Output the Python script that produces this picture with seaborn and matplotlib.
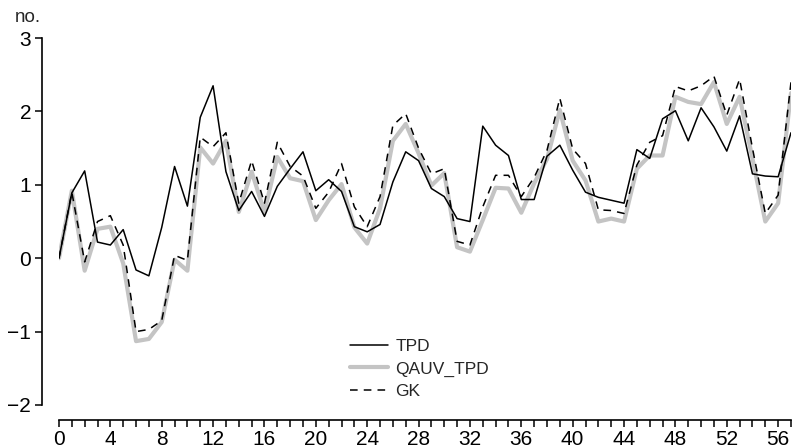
import numpy as np
import pandas as pd
import matplotlib
matplotlib.use("Agg")
import matplotlib.pyplot as plt
from matplotlib.ticker import MultipleLocator
import seaborn as sns

# Series values, one per period 0..57
periods = list(range(58))
tpd = [0.00, 0.89, 1.19, 0.22, 0.18, 0.39, -0.16, -0.24, 0.42, 1.25,
       0.71, 1.92, 2.35, 1.18, 0.65, 0.91, 0.57, 0.98, 1.22, 1.45,
       0.92, 1.07, 0.91, 0.43, 0.36, 0.46, 1.04, 1.45, 1.33, 0.95,
       0.84, 0.54, 0.50, 1.80, 1.54, 1.40, 0.80, 0.80, 1.39, 1.54,
       1.20, 0.90, 0.83, 0.79, 0.75, 1.48, 1.36, 1.90, 2.01, 1.60,
       2.05, 1.79, 1.46, 1.94, 1.15, 1.12, 1.11, 1.71]
qauv_tpd = [0.00, 0.92, -0.17, 0.40, 0.43, -0.07, -1.13, -1.10, -0.87, -0.02,
            -0.17, 1.51, 1.29, 1.60, 0.63, 1.18, 0.63, 1.38, 1.09, 1.05,
            0.52, 0.79, 1.01, 0.42, 0.20, 0.68, 1.60, 1.83, 1.43, 0.99,
            1.16, 0.15, 0.09, 0.52, 0.96, 0.95, 0.62, 1.02, 1.35, 2.02,
            1.33, 1.06, 0.50, 0.54, 0.50, 1.22, 1.40, 1.40, 2.20, 2.13,
            2.10, 2.40, 1.83, 2.20, 1.36, 0.50, 0.75, 2.25]
gk = [0.00, 0.90, -0.05, 0.50, 0.58, 0.18, -1.00, -0.97, -0.85, 0.04,
      -0.03, 1.65, 1.52, 1.71, 0.75, 1.33, 0.75, 1.58, 1.25, 1.12,
      0.68, 0.90, 1.29, 0.70, 0.43, 0.84, 1.81, 1.97, 1.50, 1.15,
      1.22, 0.23, 0.18, 0.70, 1.13, 1.13, 0.84, 1.10, 1.47, 2.18,
      1.49, 1.29, 0.66, 0.65, 0.61, 1.27, 1.58, 1.67, 2.34, 2.28,
      2.35, 2.48, 1.95, 2.44, 1.50, 0.61, 0.86, 2.40]

y_ticks = [-2, -1, 0, 1, 2, 3]
x_ticks = list(range(0, 57, 4))

sns.set_style("ticks")
plt.rcParams["font.family"] = ["Liberation Sans", "DejaVu Sans"]

df = pd.DataFrame({"period": periods, "TPD": tpd,
                   "QAUV_TPD": qauv_tpd, "GK": gk})

fig = plt.figure(figsize=(7.96, 4.48), dpi=100)
ax = fig.add_axes([0.0741, 0.096, 0.9196, 0.819])

sns.lineplot(data=df, x="period", y="QAUV_TPD", ax=ax, color="#c4c4c4",
             linewidth=3.0, label="QAUV_TPD", zorder=2)
sns.lineplot(data=df, x="period", y="TPD", ax=ax, color="black",
             linewidth=1.1, label="TPD", zorder=3)
sns.lineplot(data=df, x="period", y="GK", ax=ax, color="black",
             linewidth=1.1, linestyle=(0, (5, 4)), label="GK", zorder=4)

ax.set_xlim(0, 57)
ax.set_ylim(-2, 3)
ax.set_yticks(y_ticks)
ax.set_yticklabels([("\u2212" + str(-v)) if v < 0 else str(v) for v in y_ticks])
ax.set_xticks(x_ticks)
ax.xaxis.set_minor_locator(MultipleLocator(1))
ax.set_xlabel("")
ax.set_ylabel("")

for side in ("top", "right"):
    ax.spines[side].set_visible(False)
ax.spines["left"].set_position(("outward", 12))
ax.spines["bottom"].set_position(("outward", 11))
for side in ("left", "bottom"):
    ax.spines[side].set_linewidth(1.2)
    ax.spines[side].set_color("black")

ax.tick_params(axis="both", which="both", direction="out", length=5,
               width=1.1, color="black", labelsize=15, labelcolor="black")
ax.tick_params(axis="x", which="both", pad=2)
ax.tick_params(axis="y", pad=3)

fig.text(0.019, 0.943, "no.", fontsize=13.5, ha="left", va="bottom")

handles, labels = ax.get_legend_handles_labels()
order = [labels.index(n) for n in ("TPD", "QAUV_TPD", "GK")]
ax.legend([handles[i] for i in order], [labels[i] for i in order],
          loc="upper left", bbox_to_anchor=(0.44, 0.243),
          bbox_transform=fig.transFigure, frameon=False, fontsize=12.5,
          handlelength=2.2, handletextpad=0.4, labelspacing=0.4,
          borderpad=0.0, borderaxespad=0.0)

fig.savefig("out.png", dpi=100, facecolor="white")
